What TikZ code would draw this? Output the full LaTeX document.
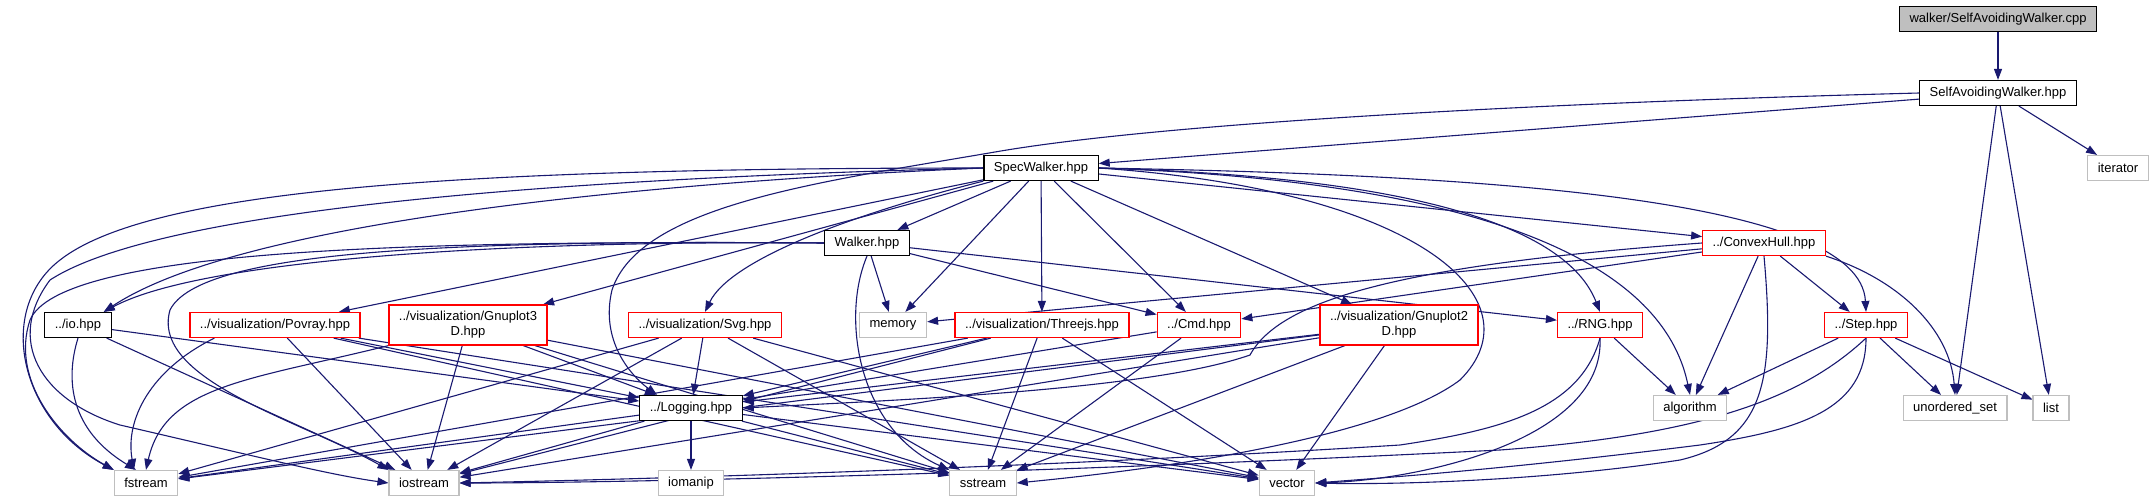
\documentclass[tikz,border=0pt]{standalone}
\usepackage{fontspec}
\newfontfamily\dotfont{Liberation Sans}
\usetikzlibrary{arrows.meta}
\definecolor{edgeblue}{HTML}{191970}
\definecolor{sysgrey}{HTML}{BFBFBF}
\pgfdeclarelayer{edges}
\pgfsetlayers{edges,main}
\tikzset{
  hdr/.style={
    rectangle, draw=black, line width=1.2pt, fill=white,
    minimum height=25pt, inner xsep=10pt, inner ysep=2pt,
    align=center,
    font=\dotfont\fontsize{13}{15}\selectfont
  },
  redhdr/.style={hdr, draw=red},
  tallhdr/.style={redhdr, minimum height=40pt},
  syshdr/.style={hdr, draw=sysgrey},
  roothdr/.style={hdr, fill=sysgrey},
  arr/.style={-{Triangle[length=11pt,width=8pt]}, draw=edgeblue, line width=1.1pt},
}

\begin{document}
\begin{tikzpicture}[x=1pt, y=-1pt]
\useasboundingbox (0,0) rectangle (2155,501);

%% ── Headers (rows top to bottom) ────────────────────────────────────────────
\node[roothdr] (cpp)      at (1998, 19) {walker/SelfAvoidingWalker.cpp};
\node[hdr]     (saw)      at (1998, 93) {SelfAvoidingWalker.hpp};
\node[syshdr]  (iterator) at (2118,168) {iterator};
\node[hdr]     (spec)     at (1041,168) {SpecWalker.hpp};
\node[hdr]     (walker)   at ( 867,243) {Walker.hpp};
\node[redhdr]  (hull)     at (1764,243) {../ConvexHull.hpp};

\node[hdr]     (io)       at (  78,325) {../io.hpp};
\node[redhdr]  (povray)   at ( 275,325) {../visualization/Povray.hpp};
\node[tallhdr] (gpthree)  at ( 468,325) {../visualization/Gnuplot3\\D.hpp};
\node[redhdr]  (svg)      at ( 705,325) {../visualization/Svg.hpp};
\node[syshdr]  (memory)   at ( 893,325) {memory};
\node[redhdr]  (threejs)  at (1042,325) {../visualization/Threejs.hpp};
\node[redhdr]  (cmd)      at (1199,325) {../Cmd.hpp};
\node[tallhdr] (gptwo)    at (1399,325) {../visualization/Gnuplot2\\D.hpp};
\node[redhdr]  (rng)      at (1600,325) {../RNG.hpp};
\node[redhdr]  (step)     at (1866,325) {../Step.hpp};

\node[hdr]     (logging)  at ( 691,408) {../Logging.hpp};
\node[syshdr]  (algorithm) at (1690,408) {algorithm};
\node[syshdr]  (uset)     at (1955,408) {unordered\_set};
\node[syshdr]  (list)     at (2051,408) {list};

\node[syshdr]  (fstream)  at ( 146,483) {fstream};
\node[syshdr]  (iostream) at ( 424,483) {iostream};
\node[syshdr]  (iomanip)  at ( 691,483) {iomanip};
\node[syshdr]  (sstream)  at ( 983,483) {sstream};
\node[syshdr]  (vector)   at (1287,483) {vector};

\begin{pgfonlayer}{edges}
%% ── Root and SelfAvoidingWalker.hpp ─────────────────────────────────────────
\draw[arr] (cpp) -- (saw);
\draw[arr] (saw) -- (spec);
\draw[arr] (saw) -- (iterator);
\draw[arr] (saw) -- (uset);
\draw[arr] (saw) -- (list);
\draw[arr] (saw.west) .. controls (1500,104) and (1150,125) .. (995,152)
           .. controls (820,182) and (640,205) .. (612,290)
           .. controls (600,340) and (630,375) .. ([xshift=-34pt]logging.north);

%% ── SpecWalker.hpp ──────────────────────────────────────────────────────────
\draw[arr] (spec) -- (walker);
\draw[arr] (spec) -- (memory);
\draw[arr] (spec) -- (threejs);
\draw[arr] (spec) -- (cmd);
\draw[arr] (spec) -- (gptwo);
\draw[arr] (spec) -- (gpthree);
\draw[arr] (spec) -- (povray);
\draw[arr] (spec) -- (hull);
\draw[arr] (spec.south west) .. controls (850,215) and (730,260) .. (svg.north);
\draw[arr] (spec.west) .. controls (700,180) and (250,215) .. ([xshift=-8pt]io.north east);
\draw[arr] (spec.west) .. controls (450,168) and (150,190) .. (60,260)
           .. controls (-5,310) and (20,420) .. (fstream.north west);
\draw[arr] (spec.west) .. controls (500,180) and (150,215) .. (50,280)
           .. controls (5,340) and (40,400) .. (120,425)
           .. controls (250,455) and (330,475) .. (iostream.west);
\draw[arr] (spec.east) .. controls (1500,175) and (1860,200) .. (step.north);
\draw[arr] (spec.east) .. controls (1350,175) and (1560,210) .. (rng.north);
\draw[arr] (spec.east) .. controls (1450,180) and (1660,250) .. (algorithm.north);
\draw[arr] (spec.east) .. controls (1420,190) and (1540,300) .. (1460,380)
           .. controls (1380,440) and (1150,470) .. (sstream.east);

%% ── Walker.hpp ──────────────────────────────────────────────────────────────
\draw[arr] (walker) -- (memory);
\draw[arr] (walker) -- (cmd);
\draw[arr] (walker) -- (rng);
\draw[arr] (walker.west) .. controls (500,240) and (200,260) .. ([xshift=-8pt]io.north east);
\draw[arr] (walker.west) .. controls (400,240) and (60,250) .. (30,320)
           .. controls (10,380) and (60,440) .. (fstream.north west);
\draw[arr] (walker.west) .. controls (450,240) and (200,250) .. (170,310)
           .. controls (150,380) and (300,420) .. (iostream.north west);
\draw[arr] (walker.south) .. controls (840,320) and (860,430) .. (sstream.north west);

%% ── io.hpp ──────────────────────────────────────────────────────────────────
\draw[arr] (io) -- (iostream);
\draw[arr] (io) -- (logging);
\draw[arr] (io.south) .. controls (65,380) and (70,430) .. ([xshift=-10pt]fstream.north);

%% ── visualization headers ───────────────────────────────────────────────────
\draw[arr] ([xshift=25pt]povray.south west) .. controls (150,370) and (125,420) .. ([xshift=-12pt]fstream.north);
\draw[arr] (povray) -- (iostream);
\draw[arr] (povray) -- (logging);
\draw[arr] (povray) -- (sstream);
\draw[arr] (povray) -- (vector);

\draw[arr] (gpthree.south west) .. controls (250,380) and (165,385) .. (fstream.north);
\draw[arr] (gpthree) -- (iostream);
\draw[arr] (gpthree) -- (logging);
\draw[arr] (gpthree) -- (sstream);
\draw[arr] (gpthree) -- (vector);

\draw[arr] (svg) -- (fstream);
\draw[arr] (svg) -- (iostream);
\draw[arr] (svg) -- (logging);
\draw[arr] (svg) -- (sstream);
\draw[arr] (svg) -- (vector);

\draw[arr] (threejs) -- (fstream);
\draw[arr] (threejs) -- (iostream);
\draw[arr] (threejs) -- (logging);
\draw[arr] (threejs) -- (sstream);
\draw[arr] (threejs) -- (vector);

\draw[arr] (gptwo) -- (fstream);
\draw[arr] (gptwo) -- (iostream);
\draw[arr] (gptwo) -- (logging);
\draw[arr] (gptwo) -- (sstream);
\draw[arr] (gptwo) -- (vector);

%% ── Cmd.hpp ─────────────────────────────────────────────────────────────────
\draw[arr] (cmd) -- (logging);
\draw[arr] (cmd) -- (sstream);

%% ── ConvexHull.hpp ──────────────────────────────────────────────────────────
\draw[arr] (hull) -- (memory);
\draw[arr] (hull) -- (cmd);
\draw[arr] (hull) -- (algorithm);
\draw[arr] (hull) -- (step);
\draw[arr] (hull.west) .. controls (1400,265) and (1280,300) .. (1250,355)
           .. controls (1150,390) and (900,400) .. (logging.east);
\draw[arr] (hull.south east) .. controls (1900,280) and (1950,330) .. (uset.north);
\draw[arr] (hull.south) .. controls (1775,380) and (1765,440) .. (1680,460)
           .. controls (1550,480) and (1400,485) .. (vector.east);

%% ── RNG.hpp and Step.hpp ────────────────────────────────────────────────────
\draw[arr] (rng) -- (algorithm);
\draw[arr] (rng.south) .. controls (1605,440) and (1420,480) .. (vector.east);
\draw[arr] (rng.south) .. controls (1580,410) and (1500,430) .. (1400,445)
           .. controls (1000,470) and (600,480) .. (iostream.east);

\draw[arr] (step) -- (algorithm);
\draw[arr] (step) -- (uset);
\draw[arr] (step) -- (list);
\draw[arr] (step.south) .. controls (1866,410) and (1800,430) .. (1700,445)
           .. controls (1500,470) and (1380,478) .. (vector.east);
\draw[arr] (step.south) .. controls (1800,400) and (1700,435) .. (1500,450)
           .. controls (1000,475) and (600,483) .. (iostream.east);

%% ── Logging.hpp ─────────────────────────────────────────────────────────────
\draw[arr] (logging) -- (fstream);
\draw[arr] (logging) -- (iostream);
\draw[arr] (logging) -- (iomanip);
\draw[arr] (logging) -- (sstream);
\draw[arr] (logging) -- (vector);
\end{pgfonlayer}

\end{tikzpicture}
\end{document}
